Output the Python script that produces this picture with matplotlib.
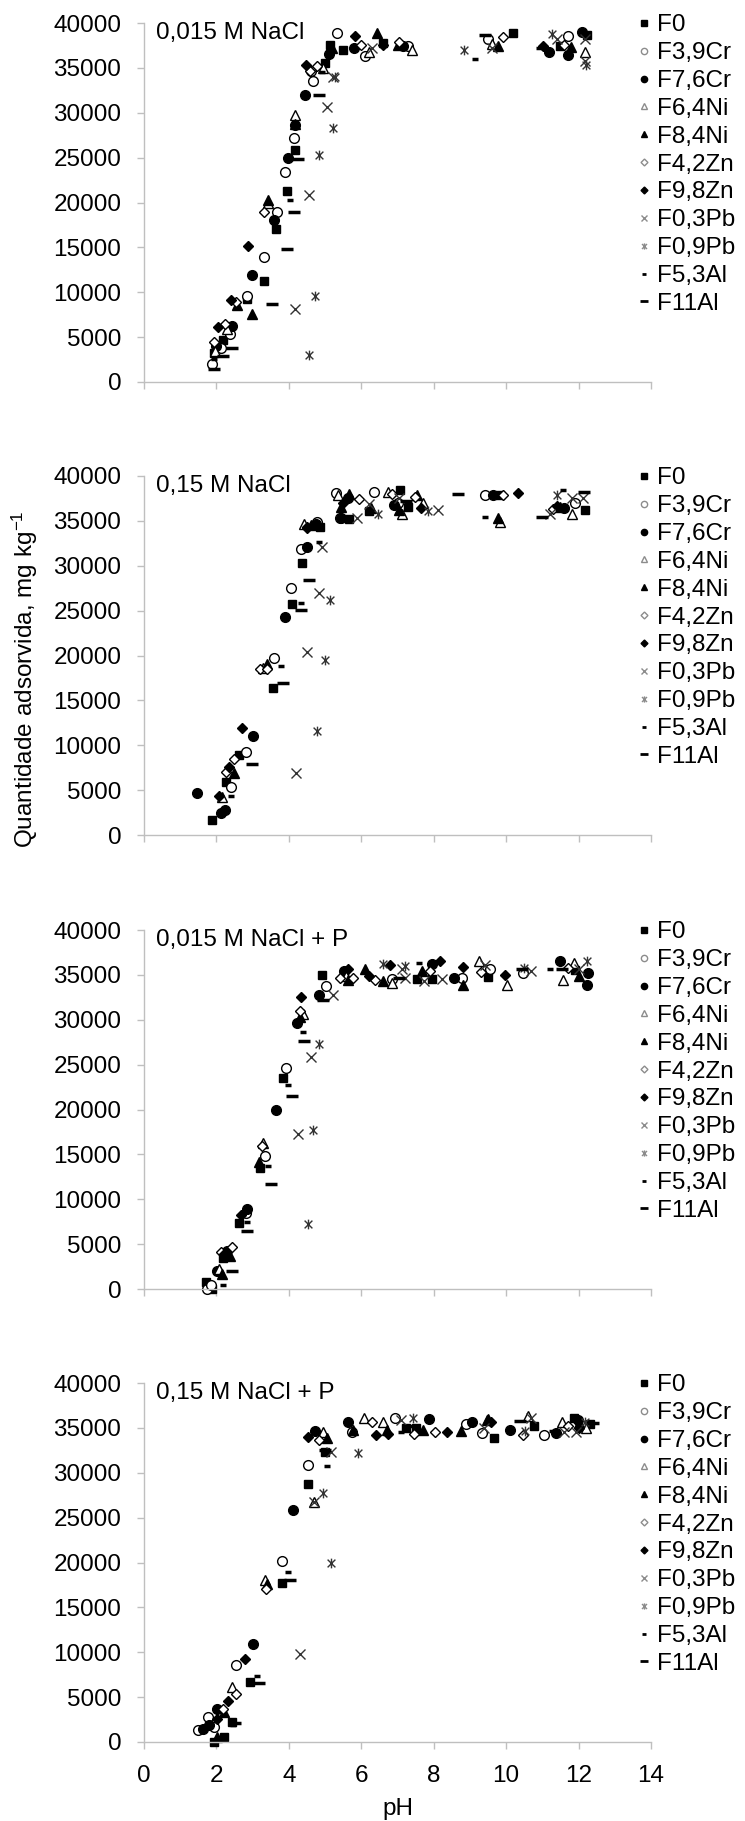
import matplotlib
matplotlib.use('Agg')
import matplotlib.pyplot as plt
from matplotlib.lines import Line2D
from matplotlib.path import Path

plt.rcParams['font.family'] = ['Liberation Sans', 'DejaVu Sans']
plt.rcParams['mathtext.default'] = 'regular'

# nomes das séries e dos painéis
series_names = ['F0', 'F3,9Cr', 'F7,6Cr', 'F6,4Ni', 'F8,4Ni', 'F4,2Zn',
                'F9,8Zn', 'F0,3Pb', 'F0,9Pb', 'F5,3Al', 'F11Al']
panel_titles = ['0,015 M NaCl', '0,15 M NaCl', '0,015 M NaCl + P', '0,15 M NaCl + P']
y_ticks = [0, 5000, 10000, 15000, 20000, 25000, 30000, 35000, 40000]
x_ticks = [0, 2, 4, 6, 8, 10, 12, 14]

# ---- painel 1: 0,015 M NaCl  (pH, quantidade adsorvida)
p1_F0 = [(1.92, 3200), (2.17, 4700), (2.84, 9200), (3.30, 11200), (3.65, 17000), (3.94, 21300),
         (4.18, 25900), (5.00, 35500), (5.14, 37600), (5.5, 37000), (6.6, 37800), (10.18, 38900),
         (11.49, 37400), (12.23, 38700)]
p1_F39Cr = [(1.88, 2050), (2.12, 3800), (2.38, 5400), (2.84, 9600), (3.32, 13900), (3.66, 18900),
            (3.90, 23400), (4.15, 27200), (4.68, 33500), (4.62, 34700), (5.34, 38900), (6.1, 36300),
            (7.3, 37400), (9.51, 38200), (11.7, 38600)]
p1_F76Cr = [(2.0, 4000), (2.42, 6200), (2.99, 11900), (3.59, 18000), (3.99, 25000), (4.18, 28600),
            (4.45, 32000), (5.1, 36600), (5.8, 37200), (7.14, 37400), (11.17, 36800), (11.72, 36400),
            (12.1, 39000)]
p1_F64Ni = [(1.95, 3500), (2.3, 5900), (3.43, 20000), (4.17, 29800), (4.95, 35000), (6.2, 36800),
            (7.39, 37000), (9.6, 37700), (12.18, 36800)]
p1_F84Ni = [(2.56, 8600), (2.99, 7600), (3.43, 20300), (4.18, 28800), (5.2, 37200), (6.43, 38900),
            (7.0, 37600), (9.78, 37400), (11.8, 37300)]
p1_F42Zn = [(1.92, 4500), (2.24, 6500), (2.54, 8900), (3.30, 18900), (4.58, 34600), (4.77, 35200),
            (6.0, 37600), (7.03, 37900), (9.92, 38400), (11.6, 37600)]
p1_F98Zn = [(2.03, 6100), (2.39, 9100), (2.86, 15100), (4.47, 35300), (5.83, 38600), (6.6, 37500),
            (11.01, 37400)]
p1_F03Pb = [(4.17, 8100), (4.57, 20800), (5.05, 30600), (5.22, 34000), (6.3, 37200), (9.6, 37200),
            (11.4, 38200), (12.18, 38200), (12.18, 35800)]
p1_F09Pb = [(4.57, 3000), (4.72, 9600), (4.82, 25300), (5.21, 28300), (5.28, 34000), (8.84, 37000),
            (11.26, 38800), (12.2, 35300)]
p1_F53Al = [(1.94, 2600), (2.99, 7300), (4.03, 20300), (4.91, 34500), (9.14, 36000)]
p1_F11Al = [(1.92, 1500), (2.19, 2900), (2.44, 3800), (3.53, 8700), (3.94, 14800), (4.14, 18900),
            (4.24, 24800), (4.84, 32000), (9.42, 38700), (11.0, 37200)]

# ---- painel 2: 0,15 M NaCl
p2_F0 = [(1.87, 1700), (2.27, 5900), (2.63, 8900), (3.55, 16400), (4.09, 25700), (4.36, 30300),
         (4.86, 34300), (5.67, 35200), (6.20, 36100), (7.07, 38400), (7.3, 36500), (9.83, 37900),
         (12.18, 36200)]
p2_F39Cr = [(2.39, 5400), (2.81, 9200), (3.59, 19700), (4.05, 27500), (4.34, 31900), (4.79, 34900),
            (5.30, 38100), (5.40, 35300), (6.35, 38200), (7.0, 37000), (9.42, 37900), (11.9, 37000)]
p2_F76Cr = [(1.47, 4700), (2.13, 2400), (2.24, 2800), (3.0, 11000), (3.90, 24300), (4.49, 32100),
            (4.75, 34700), (5.62, 37500), (5.44, 35300), (6.89, 36800), (9.65, 37900), (11.6, 36400)]
p2_F64Ni = [(2.15, 4200), (3.28, 18600), (4.42, 34700), (5.37, 37900), (6.75, 38200), (7.12, 35800),
            (7.7, 37000), (9.83, 34900), (11.81, 35800)]
p2_F84Ni = [(2.49, 6900), (3.39, 19100), (4.6, 34500), (5.67, 38000), (5.45, 36600), (6.26, 36400),
            (7.03, 36200), (7.53, 37900), (9.78, 35300), (11.5, 36500)]
p2_F42Zn = [(2.26, 7000), (2.49, 8500), (3.20, 18500), (3.39, 18500), (4.5, 34300), (5.95, 37400),
            (6.84, 38000), (7.49, 37700), (9.9, 37900), (11.3, 36300)]
p2_F98Zn = [(2.08, 4300), (2.36, 7600), (2.70, 11900), (4.51, 34200), (5.5, 37000), (7.64, 36400),
            (10.34, 38100), (11.4, 36700)]
p2_F03Pb = [(4.19, 6900), (4.51, 20400), (4.83, 27000), (4.91, 32100), (5.89, 35300), (6.22, 36900),
            (7.03, 37500), (8.13, 36200), (11.21, 35800), (11.81, 37500), (12.13, 37500)]
p2_F09Pb = [(4.77, 11600), (5.0, 19500), (5.14, 26200), (6.47, 35800), (7.85, 36100), (11.40, 37900)]
p2_F53Al = [(2.40, 4400), (3.78, 18800), (4.34, 25900), (4.82, 32700), (9.42, 35400), (11.58, 38400)]
p2_F11Al = [(2.97, 7900), (3.83, 16900), (4.57, 28400), (4.34, 25100), (7.23, 37200), (8.68, 38000),
            (10.98, 35400), (12.15, 38200)]

# ---- painel 3: 0,015 M NaCl + P
p3_F0 = [(1.71, 800), (1.87, 0), (2.19, 3500), (2.63, 7400), (3.20, 13500), (3.83, 23500),
         (4.91, 35000), (7.53, 34500), (7.95, 34500), (9.51, 34800), (11.9, 35500)]
p3_F39Cr = [(1.75, 0), (1.85, 400), (2.81, 8500), (3.34, 14800), (3.91, 24600), (5.03, 33800),
            (6.84, 34500), (8.78, 34600), (9.55, 35700), (10.47, 35200)]
p3_F76Cr = [(2.01, 2000), (2.28, 4200), (2.84, 8900), (3.65, 19900), (4.22, 29600), (4.82, 32800),
            (5.51, 35400), (7.95, 36200), (8.57, 34700), (11.49, 36500), (12.27, 35200), (12.23, 33900)]
p3_F64Ni = [(2.08, 2200), (3.28, 16300), (4.38, 30600), (5.58, 34900), (6.86, 34100), (9.24, 36500),
            (10.02, 33900), (11.58, 34400), (11.86, 36300)]
p3_F84Ni = [(2.15, 1700), (2.38, 3700), (3.18, 14100), (4.31, 30300), (5.64, 34400), (6.10, 35700),
            (6.59, 34300), (7.67, 35400), (8.82, 33900), (12.0, 34900)]
p3_F42Zn = [(2.12, 4100), (2.42, 4700), (3.25, 15900), (4.31, 31000), (5.40, 34600), (5.78, 34600),
            (6.38, 34400), (7.90, 35400), (9.3, 35300), (11.7, 35800)]
p3_F98Zn = [(2.22, 3900), (2.69, 8300), (4.33, 32500), (5.64, 35600), (6.20, 34900), (6.80, 36100),
            (8.16, 36500), (8.80, 35900), (9.97, 35000)]
p3_F03Pb = [(4.25, 17300), (4.60, 25900), (5.21, 32800), (7.12, 35700), (7.21, 34600), (7.72, 34300),
            (8.22, 34500), (9.42, 36100), (10.70, 35400), (12.00, 35700)]
p3_F09Pb = [(4.54, 7200), (4.66, 17700), (4.82, 27300), (6.59, 36200), (7.2, 36000), (10.5, 35800),
            (12.23, 36500)]
p3_F53Al = [(2.19, 500), (2.85, 7500), (3.43, 13700), (3.97, 22700), (4.38, 28600), (7.58, 36300),
            (11.2, 35700)]
p3_F11Al = [(2.44, 2000), (2.85, 6500), (3.50, 11700), (4.08, 21500), (4.42, 27600), (4.95, 32200),
            (7.03, 34600), (10.43, 35700), (11.54, 35600)]

# ---- painel 4: 0,15 M NaCl + P
p4_F0 = [(1.94, 0), (2.20, 600), (2.44, 2200), (2.92, 6700), (3.80, 17700), (4.54, 28800),
         (4.99, 32300), (7.23, 35000), (7.52, 35000), (9.66, 33900), (10.76, 35200), (11.86, 36100),
         (12.32, 35400)]
p4_F39Cr = [(1.49, 1300), (1.78, 2800), (1.94, 1700), (2.55, 8600), (3.80, 20200), (4.54, 30900),
            (5.74, 34500), (6.94, 36100), (8.88, 35400), (9.33, 34400), (11.05, 34200)]
p4_F76Cr = [(1.62, 1500), (1.79, 1900), (2.01, 3700), (3.01, 10900), (4.11, 25800), (4.73, 34600),
            (5.64, 35700), (7.88, 36000), (9.05, 35600), (10.11, 34800), (11.38, 34400), (11.99, 35900)]
p4_F64Ni = [(2.44, 6100), (3.34, 18100), (4.69, 26700), (4.95, 34500), (6.07, 36100), (6.61, 35700),
            (9.46, 35900), (10.6, 36300), (11.54, 35600), (12.2, 35000)]
p4_F84Ni = [(2.01, 600), (2.20, 3300), (3.40, 17600), (5.06, 33900), (5.77, 34800), (6.72, 34800),
            (7.71, 34800), (8.75, 34600), (9.5, 36000), (12.0, 35500)]
p4_F42Zn = [(2.18, 3700), (2.55, 5400), (3.37, 17000), (4.82, 33600), (6.29, 35600), (7.45, 34300),
            (8.04, 34500), (10.47, 34200), (11.7, 35200)]
p4_F98Zn = [(2.01, 2600), (2.31, 4600), (2.79, 9300), (4.54, 34000), (6.42, 34200), (6.74, 34300),
            (8.36, 34500), (9.59, 35700), (12.0, 35000)]
p4_F03Pb = [(4.30, 9800), (4.69, 26700), (5.15, 32300), (7.10, 35900), (9.40, 35000), (10.70, 36100),
            (11.6, 34500), (11.93, 34500)]
p4_F09Pb = [(4.93, 27700), (5.15, 19900), (5.90, 32200), (7.42, 36100), (10.53, 34600), (12.19, 35700)]
p4_F53Al = [(2.46, 1900), (3.11, 7400), (3.98, 18900), (5.06, 30700), (7.10, 34500), (11.28, 34600)]
p4_F11Al = [(2.5, 2100), (3.18, 6600), (4.02, 18100), (5.0, 32500), (7.3, 35200), (10.37, 35800),
            (12.4, 35500)]

panels = [
    [p1_F0, p1_F39Cr, p1_F76Cr, p1_F64Ni, p1_F84Ni, p1_F42Zn, p1_F98Zn, p1_F03Pb, p1_F09Pb, p1_F53Al, p1_F11Al],
    [p2_F0, p2_F39Cr, p2_F76Cr, p2_F64Ni, p2_F84Ni, p2_F42Zn, p2_F98Zn, p2_F03Pb, p2_F09Pb, p2_F53Al, p2_F11Al],
    [p3_F0, p3_F39Cr, p3_F76Cr, p3_F64Ni, p3_F84Ni, p3_F42Zn, p3_F98Zn, p3_F03Pb, p3_F09Pb, p3_F53Al, p3_F11Al],
    [p4_F0, p4_F39Cr, p4_F76Cr, p4_F64Ni, p4_F84Ni, p4_F42Zn, p4_F98Zn, p4_F03Pb, p4_F09Pb, p4_F53Al, p4_F11Al],
]

# marcador asterisco (x com traço vertical)
star = Path([(-1, -1), (1, 1), (-1, 1), (1, -1), (0, -1.25), (0, 1.25)],
            [Path.MOVETO, Path.LINETO] * 3)

dark = '#333333'
styles = [
    dict(marker='s', mfc='black', mec='black', ms=6, mew=1),
    dict(marker='o', mfc='white', mec='black', ms=7, mew=1),
    dict(marker='o', mfc='black', mec='black', ms=7, mew=1),
    dict(marker='^', mfc='white', mec='black', ms=7, mew=1),
    dict(marker='^', mfc='black', mec='black', ms=7, mew=1),
    dict(marker='D', mfc='white', mec='black', ms=5.5, mew=1),
    dict(marker='D', mfc='black', mec='black', ms=5.5, mew=1),
    dict(marker='x', mfc='none', mec=dark, ms=7, mew=1),
    dict(marker=star, mfc='none', mec=dark, ms=7, mew=1),
    dict(marker='_', mfc='black', mec='black', ms=5, mew=2.5),
    dict(marker='_', mfc='black', mec='black', ms=8, mew=2.5),
]

# marcadores da legenda (menores, contorno cinza nos vazados)
grey = '#8c8c8c'
leg_styles = [
    dict(marker='s', mfc='black', mec='black', ms=4),
    dict(marker='o', mfc='white', mec=grey, ms=4.5),
    dict(marker='o', mfc='black', mec='black', ms=4.5),
    dict(marker='^', mfc='white', mec=grey, ms=4.5),
    dict(marker='^', mfc='black', mec='black', ms=4.5),
    dict(marker='D', mfc='white', mec=grey, ms=3.5),
    dict(marker='D', mfc='black', mec='black', ms=3.5),
    dict(marker='x', mfc='none', mec=grey, ms=4.5),
    dict(marker=star, mfc='none', mec=grey, ms=4.5),
    dict(marker='_', mfc='black', mec='black', ms=3, mew=2),
    dict(marker='_', mfc='black', mec='black', ms=6, mew=2),
]
handles = [Line2D([], [], linestyle='none', **st) for st in leg_styles]

W, H = 745, 1821
fig = plt.figure(figsize=(W / 100, H / 100), dpi=100)
left_px, right_px = 144, 651
tops_px = [23, 476, 930, 1383]
height_px = 359
axis_grey = '#BFBFBF'
fs = 17.5

axes = []
for i, top in enumerate(tops_px):
    ax = fig.add_axes([left_px / W, 1 - (top + height_px) / H, (right_px - left_px) / W, height_px / H])
    for pts, st in zip(panels[i], styles):
        xs = [p[0] for p in pts]
        ys = [p[1] for p in pts]
        ax.plot(xs, ys, linestyle='none', clip_on=False, **st)
    ax.set_xlim(0, 14)
    ax.set_ylim(0, 40000)
    ax.set_xticks(x_ticks)
    ax.set_yticks(y_ticks)
    for s in ['top', 'right']:
        ax.spines[s].set_visible(False)
    for s in ['left', 'bottom']:
        ax.spines[s].set_color(axis_grey)
        ax.spines[s].set_linewidth(1)
    ax.tick_params(direction='out', length=5.3, width=1, color=axis_grey,
                   labelsize=fs, pad=11)
    if i < 3:
        ax.tick_params(axis='x', labelbottom=False)
    ax.text(0.024, 0.972, panel_titles[i], transform=ax.transAxes,
            ha='left', va='center', fontsize=fs)
    ax.legend(handles, series_names, loc='upper left', bbox_to_anchor=(0.972, 1.024),
              frameon=False, borderpad=0, borderaxespad=0, handlelength=0.6,
              handletextpad=0.25, labelspacing=0.24, fontsize=fs, numpoints=1)
    axes.append(ax)

axes[3].set_xlabel('pH', fontsize=fs, labelpad=8)
fig.text(0.034, 0.627, 'Quantidade adsorvida, mg kg$^{-1}$', rotation=90,
         ha='center', va='center', fontsize=fs)

fig.savefig('out.png', dpi=100)
